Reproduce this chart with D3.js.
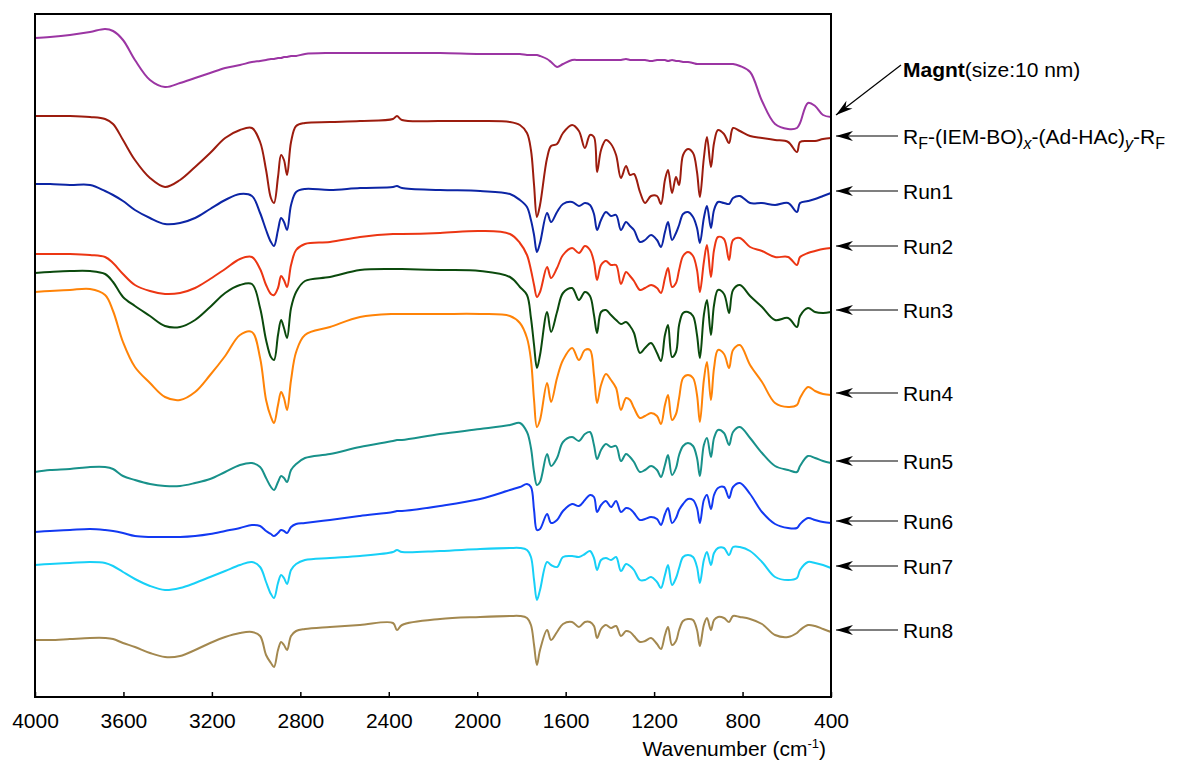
<!DOCTYPE html>
<html lang="en">
<head>
  <meta charset="UTF-8">
  <title>FTIR spectra</title>
  <script src="https://d3js.org/d3.v7.min.js"></script>
  <style>
    body { margin: 0; background: #fff; }
    svg text { font-family: "Liberation Sans", Arial, Helvetica, sans-serif; fill: #000; }
    .trace { fill: none; stroke-width: 2px; stroke-linejoin: round; }
    .frame { fill: none; stroke: #000; stroke-width: 2px; }
    .axis text { font-size: 21px; }
    .axis line { stroke: #000; stroke-width: 1.5px; }
    .label { font-size: 21px; }
    .pointer { stroke: #000; stroke-width: 1.2px; }
  </style>
</head>
<body>
  <svg width="1186" height="765"></svg>

  <script>
    // 波数 (cm-1)
    const wavenumbers = [
      4000, 3932, 3842, 3751, 3683, 3647, 3602, 3548, 3480, 3412,
      3344, 3276, 3208, 3140, 3073, 3019, 2982, 2955, 2933, 2919,
      2901, 2887, 2874, 2860, 2842, 2819, 2779, 2666, 2530, 2381,
      2363, 2340, 2168, 1987, 1852, 1807, 1775, 1757, 1743, 1730,
      1716, 1684, 1666, 1639, 1612, 1571, 1540, 1513, 1490, 1472,
      1458, 1440, 1418, 1395, 1372, 1350, 1327, 1309, 1291, 1264,
      1241, 1214, 1187, 1169, 1151, 1137, 1119, 1101, 1087, 1069,
      1047, 1024, 1006, 993, 975, 961, 943, 929, 911, 884,
      861, 843, 812, 766, 712, 653, 594, 554, 540, 504,
      472, 436, 400
    ];

    // 各スペクトル（オフセット付き透過率, 任意単位）
    const magnt = [
      662, 663, 665, 668, 671, 669, 660, 640, 620, 613,
      617, 622, 627, 632, 635, 638, 639, 640, 641, 641,
      642, 642, 643, 643, 644, 644, 646, 647, 647, 647,
      647, 647, 647, 646, 646, 646, 645, 645, 645, 645,
      644, 641, 638, 633, 636, 640, 640, 640, 640, 640,
      640, 640, 640, 640, 640, 640, 641, 640, 640, 640,
      640, 639, 640, 640, 640, 639, 640, 639, 639, 638,
      638, 637, 636, 636, 636, 636, 636, 636, 636, 636,
      636, 636, 634, 628, 599, 576, 571, 572, 577, 597,
      594, 585, 583
    ];
    const rfPolymer = [
      584, 584, 584, 583, 581, 576, 560, 540, 522, 513,
      520, 533, 547, 562, 570, 572, 558, 530, 502, 497,
      523, 545, 540, 525, 558, 574, 577, 578, 579, 581,
      584, 580, 579, 579, 578, 575, 567, 550, 515, 483,
      495, 542, 554, 556, 567, 575, 569, 552, 565, 563,
      528, 550, 560, 556, 545, 522, 534, 525, 526, 508,
      497, 504, 504, 496, 520, 530, 507, 523, 515, 545,
      551, 547, 528, 503, 542, 563, 533, 557, 570, 566,
      557, 572, 569, 564, 562, 560, 558, 548, 558, 559,
      559, 561, 562
    ];
    const run1 = [
      516, 516, 515, 515, 509, 505, 499, 490, 482, 476,
      477, 482, 491, 500, 506, 504, 487, 470, 458, 454,
      470, 482, 478, 470, 495, 508, 511, 510, 512, 513,
      514, 512, 510, 509, 506, 500, 493, 480, 465, 448,
      457, 487, 478, 488, 496, 498, 494, 497, 495, 486,
      470, 480, 488, 484, 485, 470, 478, 474, 470, 458,
      460, 465, 460, 453, 468, 478, 460, 467, 475, 486,
      488, 483, 472, 457, 482, 494, 472, 490, 498, 497,
      496, 502, 504, 497, 497, 495, 497, 488, 497, 499,
      501, 504, 507
    ];
    const run2 = [
      446, 446, 446, 445, 443, 437, 426, 415, 409, 406,
      407, 412, 421, 431, 441, 443, 431, 415, 406, 405,
      412, 424, 420, 413, 435, 450, 456, 458, 463, 466,
      466, 466, 467, 469, 466, 457, 445, 430, 415, 403,
      408, 433, 422, 432, 445, 452, 447, 454, 450, 438,
      420, 435, 439, 435, 435, 416, 428, 424, 419, 410,
      412, 415, 412, 407, 422, 432, 413, 417, 430, 444,
      448, 444, 430, 408, 438, 455, 423, 450, 463, 461,
      440, 460, 462, 453, 449, 443, 443, 435, 443, 447,
      449, 451, 452
    ];
    const run3 = [
      427, 428, 429, 429, 426, 418, 403, 394, 384, 374,
      373, 380, 393, 407, 415, 416, 392, 360, 343, 340,
      365, 380, 372, 362, 392, 408, 419, 423, 430, 431,
      431, 431, 430, 429, 423, 413, 405, 382, 355, 332,
      345, 388, 368, 388, 407, 412, 400, 408, 404, 385,
      367, 388, 390, 385, 380, 376, 378, 374, 367, 347,
      352, 357, 347, 339, 365, 375, 343, 348, 375, 387,
      388, 384, 365, 342, 385, 400, 365, 395, 410, 406,
      387, 410, 415, 404, 393, 380, 382, 373, 384, 392,
      388, 387, 388
    ];
    const run4 = [
      408, 409, 410, 411, 405, 389, 358, 333, 317, 303,
      300, 308, 325, 344, 365, 368, 342, 300, 283, 277,
      295, 308, 302, 290, 320, 348, 365, 373, 383, 386,
      386, 386, 386, 386, 384, 377, 362, 340, 300, 273,
      280, 317, 298, 322, 340, 352, 340, 350, 350, 325,
      297, 315, 326, 320, 312, 290, 302, 300, 292, 282,
      284, 287, 284, 276, 295, 305, 280, 286, 302, 322,
      325, 322, 305, 278, 320, 338, 300, 332, 350, 346,
      332, 350, 355, 335, 318, 297, 293, 295, 302, 313,
      309, 306, 305
    ];
    const run5 = [
      228, 230, 231, 233, 233, 231, 224, 220, 216, 214,
      214, 217, 221, 228, 235, 237, 233, 222, 213, 210,
      218, 224, 222, 218, 230, 236, 242, 246, 253, 259,
      260, 260, 266, 271, 275, 277, 268, 252, 228, 215,
      218, 246, 234, 242, 258, 263, 259, 266, 268, 255,
      241, 250, 256, 253, 254, 239, 246, 243, 238, 228,
      230, 234, 230, 223, 235, 245, 225, 232, 245, 254,
      257, 254, 242, 224, 255, 262, 243, 262, 270, 267,
      255, 268, 273, 262, 247, 234, 230, 228, 234, 244,
      242, 239, 237
    ];
    const run6 = [
      168, 169, 170, 171, 170, 169, 167, 164, 163, 163,
      163, 164, 166, 169, 172, 175, 174, 169, 166, 164,
      167, 170, 169, 167, 173, 176, 177, 180, 184, 188,
      189, 189, 194, 201, 210, 213, 216, 213, 190, 170,
      171, 186, 177, 180, 189, 196, 194, 200, 205, 203,
      188, 195, 199, 193, 199, 188, 192, 191, 187, 180,
      181, 183, 181, 175, 186, 192, 177, 182, 190, 196,
      201, 200, 192, 177, 200, 205, 191, 205, 212, 213,
      202, 213, 217, 206, 188, 176, 172, 172, 176, 182,
      180, 178, 177
    ];
    const run7 = [
      135, 136, 137, 138, 137, 134, 128, 121, 114, 110,
      112, 117, 123, 129, 135, 138, 133, 118, 106, 102,
      117, 125, 122, 116, 130, 136, 140, 142, 144, 148,
      150, 148, 149, 151, 152, 152, 150, 143, 120, 100,
      110, 138, 135, 133, 143, 144, 143, 146, 149, 142,
      130, 140, 142, 140, 143, 129, 136, 134, 130, 120,
      120, 123, 118, 112, 125, 135, 115, 122, 132, 143,
      145, 143, 133, 117, 140, 148, 135, 147, 152, 152,
      145, 153, 153, 149, 138, 123, 120, 122, 130, 138,
      137, 135, 132
    ];
    const run8 = [
      60, 60, 61, 62, 62, 61, 57, 53, 47, 43,
      44, 50, 57, 63, 67, 68, 64, 45, 37, 33,
      50, 58, 55, 50, 64, 69, 71, 73, 75, 77,
      70, 75, 81, 83, 84, 84, 82, 75, 55, 35,
      50, 70, 60, 68, 76, 78, 73, 78, 78, 74,
      62, 71, 75, 72, 74, 64, 69, 68, 64, 58,
      59, 62, 56, 51, 65, 73, 55, 59, 70, 79,
      81, 80, 70, 54, 75, 82, 70, 80, 83, 82,
      78, 84, 83, 81, 76, 65, 63, 67, 70, 75,
      74, 71, 68
    ];

    const seriesNames = ["Magnt", "RF", "Run1", "Run2", "Run3", "Run4", "Run5", "Run6", "Run7", "Run8"];
    const seriesValues = [magnt, rfPolymer, run1, run2, run3, run4, run5, run6, run7, run8];
    const seriesColors = ["#9b35a3", "#9c1c0e", "#0c25a5", "#ec3613", "#0b4a0d", "#ff8307",
                          "#18918a", "#1239f2", "#17d0f7", "#a3884f"];
    const xTicks = [4000, 3600, 3200, 2800, 2400, 2000, 1600, 1200, 800, 400];

    const svg = d3.select("svg");
    const plotLeft = 35, plotRight = 831, plotTop = 14, plotBottom = 697;

    const x = d3.scaleLinear().domain([4000, 400]).range([plotLeft, plotRight]);
    const y = d3.scaleLinear().domain([3, 686]).range([plotBottom, plotTop]);

    // スペクトル
    const line = d3.line()
      .x((d, i) => x(wavenumbers[i]))
      .y(d => y(d))
      .curve(d3.curveCatmullRom.alpha(0.5));

    svg.append("g")
      .selectAll("path")
      .data(seriesValues)
      .enter()
      .append("path")
      .attr("class", "trace")
      .attr("stroke", (d, i) => seriesColors[i])
      .attr("d", line);

    // 枠と目盛り
    svg.append("rect")
      .attr("class", "frame")
      .attr("x", plotLeft).attr("y", plotTop)
      .attr("width", plotRight - plotLeft).attr("height", plotBottom - plotTop);

    const axis = svg.append("g")
      .attr("class", "axis")
      .attr("transform", `translate(0, ${plotBottom})`)
      .call(d3.axisBottom(x).tickValues(xTicks).tickSize(-5).tickPadding(16).tickFormat(d3.format("d")));
    axis.select(".domain").remove();
    axis.selectAll(".tick text").attr("fill", "#000");

    const title = svg.append("text")
      .attr("x", 826).attr("y", 756)
      .attr("text-anchor", "end")
      .style("font-size", "21px");
    title.append("tspan").text("Wavenumber (cm");
    title.append("tspan").attr("dy", -8).style("font-size", "13px").text("-1");
    title.append("tspan").attr("dy", 8).text(")");

    // 矢印
    const defs = svg.append("defs");
    defs.append("marker")
      .attr("id", "head")
      .attr("markerUnits", "userSpaceOnUse")
      .attr("viewBox", "-18 -6 20 12")
      .attr("refX", 0).attr("refY", 0)
      .attr("markerWidth", 20).attr("markerHeight", 12)
      .attr("orient", "auto")
      .append("path")
      .attr("d", "M0,0 L-17,-5 L-12,0 L-17,5 Z")
      .attr("fill", "#000");

    const labelX = 903;
    seriesNames.forEach((name, i) => {
      const vals = seriesValues[i];
      const tipY = y(vals[vals.length - 1]) - 2;
      const labelY = name === "Magnt" ? tipY - 50 : tipY;
      svg.append("line")
        .attr("class", "pointer")
        .attr("x1", name === "Magnt" ? 901 : 898).attr("y1", labelY)
        .attr("x2", 836).attr("y2", tipY)
        .attr("marker-end", "url(#head)");

      const t = svg.append("text")
        .attr("class", "label")
        .attr("x", labelX)
        .attr("y", labelY + (name === "Magnt" ? 12 : 8));

      if (name === "Magnt") {
        t.append("tspan").style("font-weight", "bold").text("Magnt");
        t.append("tspan").text("(size:10 nm)");
      } else if (name === "RF") {
        const sub = (s, italic) => t.append("tspan")
          .attr("dy", 5).style("font-size", "16px")
          .style("font-style", italic ? "italic" : "normal").text(s);
        const norm = s => t.append("tspan").attr("dy", -5).text(s);
        t.append("tspan").text("R");
        sub("F");
        norm("-(IEM-BO)");
        sub("x", true);
        norm("-(Ad-HAc)");
        sub("y", true);
        norm("-R");
        sub("F");
      } else {
        t.text(name);
      }
    });
  </script>
</body>
</html>
